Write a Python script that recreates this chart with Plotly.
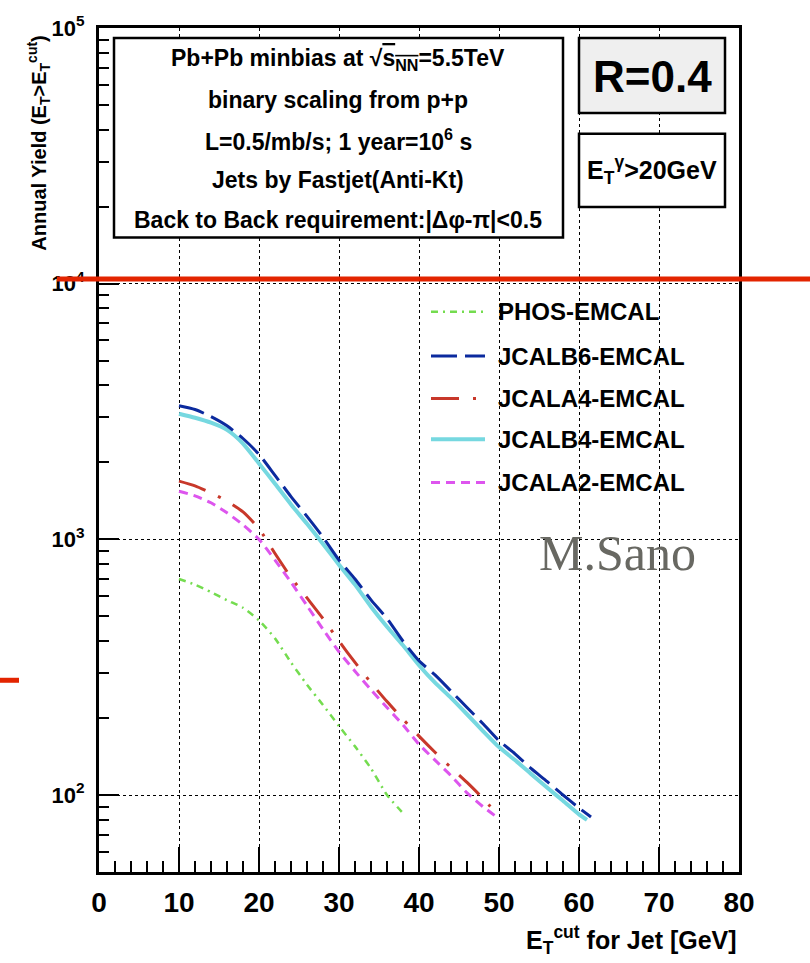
import plotly.graph_objects as go
import numpy as np

# ---- data: annual yield above the jet E_T cut ----
series_names = ["PHOS-EMCAL", "JCALB6-EMCAL", "JCALA4-EMCAL", "JCALB4-EMCAL", "JCALA2-EMCAL"]

phos_x = [10, 12, 14, 16, 18, 20, 22, 24, 26, 28, 30, 32, 34, 36, 38]
phos_y = [700, 665, 622, 578, 540, 482, 410, 330, 270, 225, 186, 155, 127, 100, 85]

jcalb6_x = [10, 12, 14, 16, 18, 20, 22, 24, 26, 28, 30, 32, 34, 36, 38, 40, 42, 44, 46, 48, 50, 52, 54, 56, 58, 60, 61.5]
jcalb6_y = [3330, 3220, 3020, 2780, 2480, 2150, 1780, 1470, 1230, 1020, 830, 700, 580, 490, 400, 335, 295, 255, 220, 190, 163, 145, 127, 113, 100, 89, 82]

jcala4_x = [10, 12, 14, 16, 18, 20, 22, 24, 26, 28, 30, 32, 34, 36, 38, 40, 42, 44, 46, 48, 49.5]
jcala4_y = [1690, 1620, 1520, 1410, 1280, 1100, 880, 710, 590, 490, 400, 330, 275, 232, 198, 170, 147, 128, 112, 97, 86]

jcalb4_x = [10, 12, 14, 16, 18, 20, 22, 24, 26, 28, 30, 32, 34, 36, 38, 40, 42, 44, 46, 48, 50, 52, 54, 56, 58, 60, 61]
jcalb4_y = [3100, 2990, 2860, 2680, 2370, 1980, 1650, 1370, 1150, 960, 796, 665, 545, 455, 385, 322, 275, 240, 207, 178, 154, 137, 121, 107, 95, 84, 80]

jcala2_x = [10, 12, 14, 16, 18, 20, 22, 24, 26, 28, 30, 32, 34, 36, 38, 40, 42, 44, 46, 48, 49.5]
jcala2_y = [1543, 1480, 1390, 1270, 1140, 1000, 830, 680, 550, 445, 363, 305, 258, 220, 188, 158, 137, 119, 102, 90, 83]

x_ticks = [0, 10, 20, 30, 40, 50, 60, 70, 80]
y_ticks = [100, 1000, 10000, 100000]
y_ticktext = ["10<sup>2</sup>", "10<sup>3</sup>", "10<sup>4</sup>", "10<sup>5</sup>"]

info_lines = [
    "Pb+Pb minbias at √<span style='text-decoration:overline'>s<sub>NN</sub></span>=5.5TeV",
    "binary scaling from p+p",
    "L=0.5/mb/s; 1 year=10<sup>6</sup> s",
    "Jets by Fastjet(Anti-Kt)",
    "Back to Back requirement:|Δφ-π|<0.5",
]

# ---- styling ----
W, H = 810, 963
L, R, T, B = 99, 739, 18, 872


def px(xp):
    return (xp - L) / (R - L)


def py(yp):
    return (B - yp) / (B - T)


SANS = "Liberation Sans, Arial, sans-serif"

styles = {
    "PHOS-EMCAL": dict(color="#74dc4f", width=2.5, dash="7px,5px,2px,5px"),
    "JCALB6-EMCAL": dict(color="#0b2a9e", width=3, dash="26px,8px"),
    "JCALA4-EMCAL": dict(color="#c8382a", width=3, dash="28px,14px,3px,14px"),
    "JCALB4-EMCAL": dict(color="#76d8e0", width=4, dash="solid"),
    "JCALA2-EMCAL": dict(color="#dd55ee", width=3, dash="9px,6px"),
}

data = {
    "PHOS-EMCAL": (phos_x, phos_y),
    "JCALB6-EMCAL": (jcalb6_x, jcalb6_y),
    "JCALA4-EMCAL": (jcala4_x, jcala4_y),
    "JCALB4-EMCAL": (jcalb4_x, jcalb4_y),
    "JCALA2-EMCAL": (jcala2_x, jcala2_y),
}

fig = go.Figure()

# stacking order of the curves (lighter ones underneath)
draw_order = ["JCALB4-EMCAL", "JCALA2-EMCAL", "PHOS-EMCAL", "JCALB6-EMCAL", "JCALA4-EMCAL"]
for name in draw_order:
    xs, ys = data[name]
    fig.add_trace(go.Scatter(x=xs, y=ys, mode="lines", name=name,
                             line=dict(shape="spline", smoothing=0.6, **styles[name]),
                             showlegend=False))

shapes = []
annotations = []

# information box
shapes.append(dict(type="rect", xref="paper", yref="paper",
                   x0=px(114), x1=px(563), y0=py(230), y1=py(28),
                   line=dict(color="black", width=2.5), fillcolor="white", layer="above"))
for i, txt in enumerate(info_lines):
    annotations.append(dict(xref="paper", yref="paper", x=px(338), y=py(50 + 40.5 * i),
                            text=txt, showarrow=False, xanchor="center", yanchor="middle",
                            font=dict(family=SANS, size=23, color="black", weight="bold")))

# jet radius box
shapes.append(dict(type="rect", xref="paper", yref="paper",
                   x0=px(579), x1=px(725), y0=py(104), y1=py(28),
                   line=dict(color="black", width=2.5), fillcolor="#efefef", layer="above"))
annotations.append(dict(xref="paper", yref="paper", x=px(652), y=py(67),
                        text="R=0.4", showarrow=False, xanchor="center", yanchor="middle",
                        font=dict(family=SANS, size=44, color="black", weight="bold")))

# photon threshold box
shapes.append(dict(type="rect", xref="paper", yref="paper",
                   x0=px(579), x1=px(725), y0=py(199), y1=py(125),
                   line=dict(color="black", width=2.5), fillcolor="white", layer="above"))
annotations.append(dict(xref="paper", yref="paper", x=px(652), y=py(162),
                        text="E<sub>T</sub><sup>γ</sup>>20GeV", showarrow=False,
                        xanchor="center", yanchor="middle",
                        font=dict(family=SANS, size=25, color="black", weight="bold")))

# legend
legend_rows = [305, 350, 393, 434, 478]
for name, yrow in zip(series_names, legend_rows):
    st = styles[name]
    shapes.append(dict(type="line", xref="paper", yref="paper",
                       x0=px(431), x1=px(485), y0=py(yrow), y1=py(yrow),
                       line=dict(color=st["color"], width=st["width"], dash=st["dash"])))
    annotations.append(dict(xref="paper", yref="paper", x=px(496), y=py(yrow),
                            text=name, showarrow=False, xanchor="left", yanchor="middle",
                            font=dict(family=SANS, size=24, color="black", weight="bold")))

# author tag
annotations.append(dict(xref="paper", yref="paper", x=px(617), y=py(549),
                        text="M.Sano", showarrow=False, xanchor="center", yanchor="middle",
                        font=dict(family="Liberation Serif, Times New Roman, serif", size=50,
                                  color="#686862")))

# axis titles
annotations.append(dict(xref="paper", yref="paper", x=px(39), y=py(135),
                        text="Annual Yield (E<sub>T</sub>>E<sub>T</sub><sup>cut</sup>)",
                        textangle=-90, showarrow=False, xanchor="center", yanchor="middle",
                        font=dict(family=SANS, size=20, color="black", weight="bold")))
annotations.append(dict(xref="paper", yref="paper", x=1.0, y=py(941),
                        text="E<sub>T</sub><sup>cut</sup> for Jet [GeV]",
                        showarrow=False, xanchor="right", yanchor="middle",
                        font=dict(family=SANS, size=25, color="black", weight="bold")))

# red highlight strokes
shapes.append(dict(type="line", xref="paper", yref="paper",
                   x0=px(57), x1=px(810), y0=py(272), y1=py(272),
                   line=dict(color="#e32400", width=5), layer="above"))
shapes.append(dict(type="line", xref="paper", yref="paper",
                   x0=px(0), x1=px(19), y0=py(678), y1=py(678),
                   line=dict(color="#e32400", width=5), layer="above"))

fig.update_layout(
    width=W, height=H,
    margin=dict(l=L, r=W - R, t=T, b=H - B),
    paper_bgcolor="white", plot_bgcolor="white",
    shapes=shapes, annotations=annotations,
    showlegend=False,
)

fig.update_xaxes(
    range=[0, 80], tickvals=x_ticks, ticks="inside", ticklen=25, tickwidth=2,
    tickcolor="black", showline=True, linecolor="black", linewidth=3, mirror=True,
    showgrid=True, gridcolor="black", griddash="dot", gridwidth=1,
    tickfont=dict(family=SANS, size=28, color="black", weight="bold"),
    ticklabelstandoff=3, zeroline=False,
    minor=dict(ticks="inside", ticklen=11, tickwidth=2, tickcolor="black", dtick=2, showgrid=False),
)
fig.update_yaxes(
    type="log", range=[np.log10(50), 5], tickvals=y_ticks, ticktext=y_ticktext,
    ticks="inside", ticklen=20, tickwidth=2, tickcolor="black",
    showline=True, linecolor="black", linewidth=3, mirror=True,
    showgrid=True, gridcolor="black", griddash="dot", gridwidth=1,
    tickfont=dict(family=SANS, size=22, color="black", weight="bold"),
    ticklabelstandoff=7, zeroline=False,
    minor=dict(ticks="inside", ticklen=10, tickwidth=2, tickcolor="black", dtick="D1", showgrid=False),
)

fig.write_html("out.html")
